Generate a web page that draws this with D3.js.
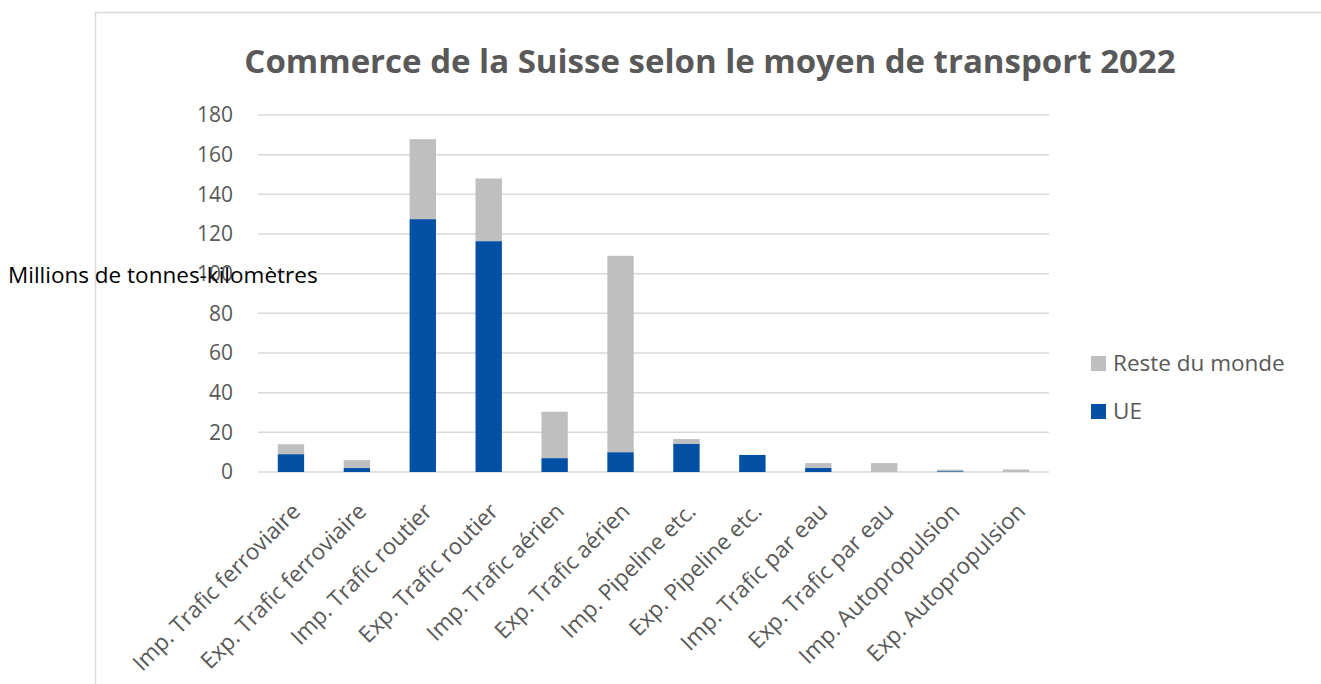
<!DOCTYPE html>
<html>
<head>
<meta charset="utf-8">
<script src="https://cdn.jsdelivr.net/npm/d3@7/dist/d3.min.js"></script>
<style>
  body { margin: 0; background: #fff; }
  svg { display: block; font-family: "Open Sans", sans-serif; }
</style>
</head>
<body>
<svg id="chart"></svg>
<script>
var categories = ['Imp. Trafic ferroviaire', 'Exp. Trafic ferroviaire', 'Imp. Trafic routier', 'Exp. Trafic routier',
  'Imp. Trafic aérien', 'Exp. Trafic aérien', 'Imp. Pipeline etc.', 'Exp. Pipeline etc.',
  'Imp. Trafic par eau', 'Exp. Trafic par eau', 'Imp. Autopropulsion', 'Exp. Autopropulsion'];
var ue = [9, 2, 127.5, 116.4, 7, 10, 14.3, 8.6, 2, 0, 0.4, 0.1];
var resteDuMonde = [5, 4, 40.3, 31.6, 23.4, 99, 2.3, 0, 2.5, 4.5, 0.8, 1.2];
var yTicks = [0, 20, 40, 60, 80, 100, 120, 140, 160, 180];
var seriesNames = ['UE', 'Reste du monde'];
var colors = {'UE': '#0350A5', 'Reste du monde': '#BFBFBF'};

var W = 1321, H = 684;
var margin = {top: 115, left: 258, right: 272, bottom: 212};
var width = W - margin.left - margin.right;
var height = H - margin.top - margin.bottom;

var svg = d3.select('#chart').attr('width', W).attr('height', H);

// chart frame
svg.append('rect')
    .attr('x', 95.5).attr('y', 12.5)
    .attr('width', W).attr('height', H)
    .attr('fill', 'none').attr('stroke', '#d9d9d9').attr('stroke-width', 1.5);

svg.append('text')
    .attr('x', 710).attr('y', 73)
    .attr('text-anchor', 'middle')
    .attr('font-size', 33).attr('font-weight', 'bold')
    .attr('fill', '#595959')
    .text('Commerce de la Suisse selon le moyen de transport 2022');

var g = svg.append('g').attr('transform', 'translate(' + margin.left + ',' + margin.top + ')');

var x = d3.scaleBand().domain(categories).range([0, width]).paddingInner(0.6).paddingOuter(0.3);
var y = d3.scaleLinear().domain([0, 180]).range([height, 0]);

// gridlines
g.selectAll('.grid')
    .data(yTicks)
    .enter().append('line')
    .attr('x1', 0).attr('x2', width)
    .attr('y1', function(d) { return y(d); })
    .attr('y2', function(d) { return y(d); })
    .attr('stroke', '#d9d9d9').attr('stroke-width', 1.5);

// y axis
var yAxis = g.append('g').call(d3.axisLeft(y).tickValues(yTicks).tickSize(0).tickPadding(25));
yAxis.select('.domain').remove();
yAxis.selectAll('text').attr('font-size', 21).attr('fill', '#595959').attr('font-family', '"Open Sans", sans-serif');

// stacked bars
var rows = categories.map(function(c, i) { return {cat: c, 'UE': ue[i], 'Reste du monde': resteDuMonde[i]}; });
var stacked = d3.stack().keys(seriesNames)(rows);

g.selectAll('.series')
    .data(stacked)
    .enter().append('g')
    .attr('fill', function(d) { return colors[d.key]; })
    .selectAll('rect')
    .data(function(d) { return d; })
    .enter().append('rect')
    .attr('x', function(d) { return x(d.data.cat); })
    .attr('width', x.bandwidth())
    .attr('y', function(d) { return y(d[1]); })
    .attr('height', function(d) { return y(d[0]) - y(d[1]); });

// x axis
var xAxis = g.append('g')
    .attr('transform', 'translate(0,' + height + ')')
    .call(d3.axisBottom(x).tickSize(0).tickPadding(0));
xAxis.select('.domain').remove();
xAxis.selectAll('text')
    .attr('font-size', 22.5).attr('fill', '#595959').attr('font-family', '"Open Sans", sans-serif')
    .attr('text-anchor', 'end')
    .attr('dy', '0.3em')
    .attr('transform', 'translate(6,36) rotate(-45)');

// y axis title
svg.append('text')
    .attr('x', 8).attr('y', 283)
    .attr('font-size', 22.5).attr('fill', '#000')
    .text('Millions de tonnes-kilomètres');

// legend
var legend = svg.append('g').attr('transform', 'translate(1091,356)');
var legendItems = ['Reste du monde', 'UE'];
legendItems.forEach(function(name, i) {
    var item = legend.append('g').attr('transform', 'translate(0,' + (i * 48) + ')');
    item.append('rect').attr('width', 15).attr('height', 15).attr('fill', colors[name]);
    item.append('text').attr('x', 22).attr('y', 7.5).attr('dy', '0.35em')
        .attr('font-size', 22.5).attr('fill', '#595959').text(name);
});
</script>
</body>
</html>
